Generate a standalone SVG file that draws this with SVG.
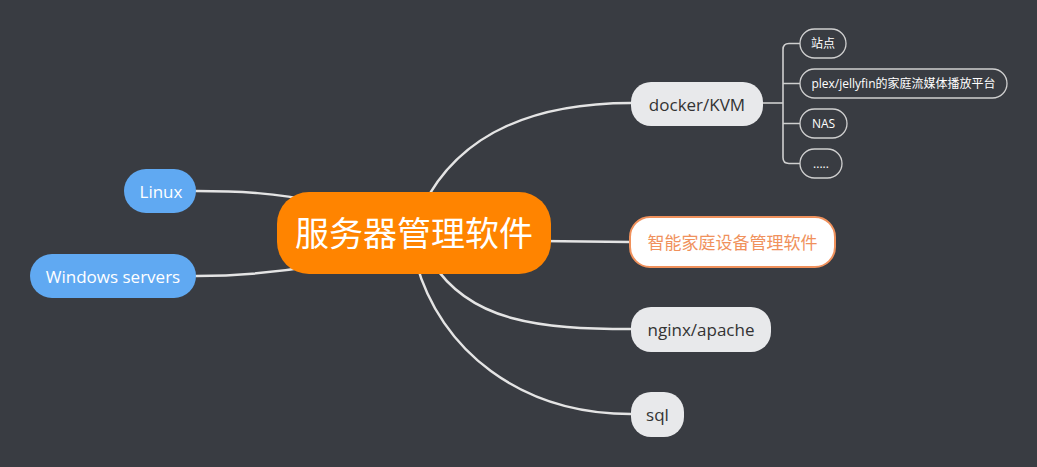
<svg xmlns="http://www.w3.org/2000/svg" width="1037" height="467" viewBox="0 0 1037 467">
<style>
.bg{fill:#393c42}
.ln{fill:none;stroke:#e4e4e4;stroke-width:2.5;stroke-linecap:round}
.sl{fill:none;stroke:#cfcfcf;stroke-width:1.6}
.t{font-family:"Open Sans","Noto Sans CJK SC",sans-serif;text-anchor:middle;dominant-baseline:central}
.blue{fill:#60a9f2}
.gray{fill:#e8e9eb}
.sub{fill:#393c42;stroke:#d0d0d0;stroke-width:1.3}
</style>
<rect class="bg" x="0" y="0" width="1037" height="467"/>
<g id="connectors">
<path class="ln" d="M196 191 C 240 191, 275 193, 320 202"/>
<path class="ln" d="M196 276 C 240 276, 280 272, 320 265"/>
<path class="ln" d="M422 208 C 460 130, 540 103, 631 103"/>
<path class="ln" d="M540 241 L 630 242"/>
<path class="ln" d="M432 262 C 470 322, 540 329, 631 329"/>
<path class="ln" d="M416 262 C 440 350, 520 414, 631 414"/>
<path class="sl" d="M763 103 L 783 103"/>
<path class="sl" d="M800 43.5 L 789 43.5 Q 783 43.5 783 49.5 L 783 157.5 Q 783 163.5 789 163.5 L 800 163.5"/>
<path class="sl" d="M783 83.5 L 800 83.5 M783 123.5 L 800 123.5"/>
</g>
<g id="center">
<rect x="277" y="192" width="274" height="82" rx="32" fill="#ff8400"/>
<text class="t" x="414" y="233" font-size="34" fill="#ffffff">服务器管理软件</text>
</g>
<g id="linux">
<rect class="blue" x="124" y="169" width="72" height="44" rx="22"/>
<text class="t" x="161" y="191" font-size="17" fill="#ffffff">Linux</text>
</g>
<g id="windows">
<rect class="blue" x="30" y="254" width="166" height="44" rx="22"/>
<text class="t" x="113" y="276" font-size="17" fill="#ffffff">Windows servers</text>
</g>
<g id="docker">
<rect class="gray" x="631" y="82" width="132" height="44" rx="20"/>
<text class="t" x="697" y="104" font-size="17" fill="#333333">docker/KVM</text>
</g>
<g id="smarthome">
<rect x="630" y="217" width="205" height="50" rx="20" fill="#ffffff" stroke="#f0915c" stroke-width="2"/>
<text class="t" x="732.5" y="242" font-size="17" fill="#f0915c">智能家庭设备管理软件</text>
</g>
<g id="nginx">
<rect class="gray" x="631" y="307" width="140" height="45" rx="20"/>
<text class="t" x="701" y="329.5" font-size="17" fill="#333333">nginx/apache</text>
</g>
<g id="sql">
<rect class="gray" x="631" y="392" width="53" height="45" rx="20"/>
<text class="t" x="657.5" y="414.5" font-size="17" fill="#333333">sql</text>
</g>
<g id="site">
<rect class="sub" x="800" y="29" width="46" height="29" rx="14.5"/>
<text class="t" x="823" y="43.5" font-size="12" fill="#ffffff">站点</text>
</g>
<g id="plex">
<rect class="sub" x="800" y="69" width="207" height="29" rx="14.5"/>
<text class="t" x="903.5" y="83.5" font-size="12" fill="#ffffff">plex/jellyfin的家庭流媒体播放平台</text>
</g>
<g id="nas">
<rect class="sub" x="800" y="109" width="47" height="29" rx="14.5"/>
<text class="t" x="823.5" y="123.5" font-size="12" fill="#ffffff">NAS</text>
</g>
<g id="more">
<rect class="sub" x="800" y="149" width="42" height="29" rx="14.5"/>
<text class="t" x="821" y="163.5" font-size="12" fill="#ffffff">.....</text>
</g>
</svg>
